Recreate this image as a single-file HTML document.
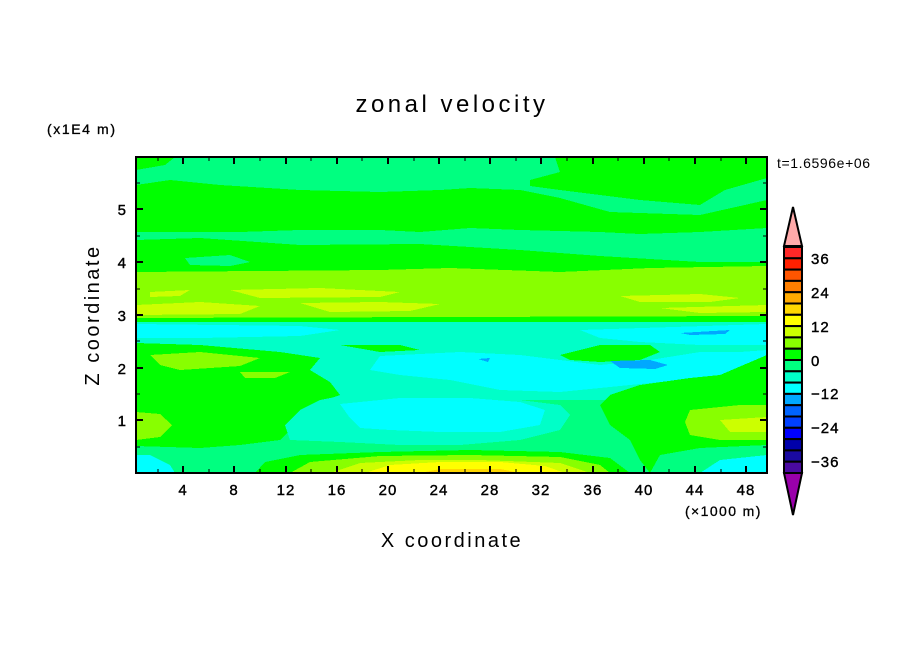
<!DOCTYPE html>
<html><head><style>
body{margin:0;background:#fff;}
svg text{font-family:"Liberation Sans",sans-serif;fill:#000;}
</style></head><body>
<svg width="904" height="654" viewBox="0 0 904 654" xmlns="http://www.w3.org/2000/svg">
<defs><clipPath id="c"><rect x="136" y="157" width="631" height="316"/></clipPath></defs>
<g clip-path="url(#c)" shape-rendering="crispEdges">
<rect x="136" y="157" width="631" height="316" fill="#00ff80"/>
<path d="M136 157 L175 157 L165 165 L136 170Z" fill="#00ff00"/>
<path d="M555 157 L767 157 L767 178 L725 190 L700 205 L640 200 L600 195 L560 190 L530 186 L530 180 L560 172Z" fill="#00ff00"/>
<path d="M136 185 L170 180 L220 185 L300 190 L380 192 L440 190 L470 188 L520 190 L560 198 L610 212 L700 215 L767 200 L767 228 L700 232 L640 234 L600 232 L520 230 L470 228 L420 232 L380 230 L300 230 L240 232 L136 232Z" fill="#00ff00"/>
<path d="M136 240 L200 238 L300 245 L420 244 L520 250 L600 256 L700 262 L767 262 L767 280 L136 280Z" fill="#00ff00"/>
<path d="M185 258 L230 255 L250 262 L230 266 L190 265Z" fill="#00ff80"/>
<path d="M136 272 L380 270 L450 268 L560 272 L650 268 L767 266 L767 322 L136 322Z" fill="#88ff00"/>
<path d="M150 292 L190 290 L180 296 L150 297Z M230 290 L320 288 L400 292 L380 297 L260 298Z M136 305 L200 302 L260 306 L240 314 L136 315Z M300 303 L380 302 L440 304 L410 311 L330 312Z M620 296 L700 294 L740 298 L710 302 L640 302Z M660 308 L767 305 L767 312 L700 313Z" fill="#ccff00"/>
<path d="M136 318 L767 316 L767 322 L136 322Z" fill="#00ff00"/>
<path d="M136 322 L767 322 L767 400 L136 400Z" fill="#00ffc8"/>
<path d="M136 324 L300 326 L340 330 L300 336 L200 338 L136 338Z M580 330 L767 324 L767 345 L700 345 L640 342 L600 338Z" fill="#00ffff"/>
<path d="M680 333 L730 330 L725 334 L690 335Z" fill="#00a8ff"/>
<path d="M136 343 L200 345 L280 352 L320 358 L310 370 L330 382 L340 395 L310 405 L300 420 L280 440 L240 445 L200 448 L136 446Z" fill="#00ff00"/>
<path d="M150 355 L200 352 L260 358 L240 366 L180 370 L160 365Z M240 372 L290 372 L275 378 L245 378Z" fill="#88ff00"/>
<path d="M136 412 L160 414 L172 425 L160 437 L136 440Z" fill="#88ff00"/>
<path d="M340 345 L400 345 L420 350 L380 352Z M560 355 L600 345 L650 345 L660 352 L640 360 L600 362 L570 360Z" fill="#00ff00"/>
<path d="M380 356 L460 352 L520 355 L560 360 L600 365 L650 360 L700 352 L740 352 L767 350 L767 372 L720 378 L660 382 L600 388 L560 392 L500 390 L450 380 L400 375 L370 370Z" fill="#00ffff"/>
<path d="M610 361 L650 360 L668 365 L655 369 L620 368Z M478 359 L490 358 L488 362Z" fill="#00a8ff"/>
<path d="M320 400 L360 392 L420 390 L470 395 L520 400 L560 405 L570 415 L560 430 L520 440 L460 445 L400 445 L340 442 L290 440 L285 425 L300 410Z" fill="#00ffc8"/>
<path d="M340 404 L400 398 L470 398 L520 402 L545 410 L540 425 L500 432 L440 432 L390 430 L360 428 L350 418Z" fill="#00ffff"/>
<path d="M767 355 L767 473 L650 473 L640 460 L630 440 L610 425 L600 405 L610 395 L640 385 L690 378 L720 375 Z" fill="#00ff00"/>
<path d="M690 410 L740 405 L767 405 L767 440 L720 440 L690 435 L685 422Z" fill="#88ff00"/>
<path d="M720 420 L767 417 L767 432 L730 432Z" fill="#ccff00"/>
<path d="M650 473 L660 455 L700 448 L767 445 L767 473Z" fill="#00ff80"/>
<path d="M700 473 L720 460 L767 455 L767 473Z" fill="#00ffff"/>
<path d="M136 450 L200 448 L250 450 L290 447 L360 446 L450 445 L560 446 L610 450 L620 473 L136 473Z" fill="#00ff80"/>
<path d="M136 455 L150 455 L170 465 L175 473 L136 473Z" fill="#00ffff"/>
<path d="M255 473 L265 462 L300 455 L380 452 L470 450 L560 452 L610 458 L630 473Z" fill="#00ff00"/>
<path d="M290 473 L310 462 L380 456 L470 455 L560 457 L600 465 L610 473Z" fill="#88ff00"/>
<path d="M330 473 L360 463 L420 460 L480 460 L560 463 L590 473Z" fill="#ccff00"/>
<path d="M365 473 L390 465 L440 462 L500 462 L545 466 L565 473Z" fill="#ffff00"/>
<path d="M420 473 L440 469 L500 469 L520 473Z" fill="#ffd700"/>
</g>
<rect x="136" y="157" width="631" height="316" fill="none" stroke="#000" stroke-width="2"/>
<g stroke="#000" stroke-width="2">
<path d="M183 473v-7M234 473v-7M286 473v-7M337 473v-7M388 473v-7M439 473v-7M490 473v-7M541 473v-7M593 473v-7M644 473v-7M695 473v-7M746 473v-7
M183 157v7M234 157v7M286 157v7M337 157v7M388 157v7M439 157v7M490 157v7M541 157v7M593 157v7M644 157v7M695 157v7M746 157v7
M136 420h7M136 368h7M136 315h7M136 262h7M136 209h7
M767 420h-7M767 368h-7M767 315h-7M767 262h-7M767 209h-7"/>
<path stroke-width="1" d="M158 473v-4M209 473v-4M260 473v-4M311 473v-4M362 473v-4M414 473v-4M465 473v-4M516 473v-4M567 473v-4M618 473v-4M669 473v-4M721 473v-4
M158 157v4M209 157v4M260 157v4M311 157v4M362 157v4M414 157v4M465 157v4M516 157v4M567 157v4M618 157v4M669 157v4M721 157v4
M136 447h4M136 394h4M136 341h4M136 289h4M136 236h4M136 183h4
M767 447h-4M767 394h-4M767 341h-4M767 289h-4M767 236h-4M767 183h-4"/>
</g>
<g font-size="15" text-anchor="middle" stroke="#000" stroke-width="0.4" letter-spacing="1">
<text x="183" y="495">4</text><text x="234" y="495">8</text><text x="286" y="495">12</text><text x="337" y="495">16</text><text x="388" y="495">20</text><text x="439" y="495">24</text><text x="490" y="495">28</text><text x="541" y="495">32</text><text x="593" y="495">36</text><text x="644" y="495">40</text><text x="695" y="495">44</text><text x="746" y="495">48</text>
</g>
<g font-size="15" text-anchor="end" stroke="#000" stroke-width="0.4">
<text x="126" y="426">1</text><text x="126" y="374">2</text><text x="126" y="321">3</text><text x="126" y="268">4</text><text x="126" y="215">5</text>
</g>
<text x="452" y="112" font-size="24" text-anchor="middle" letter-spacing="3.5">zonal velocity</text>
<text x="47" y="134" font-size="14" letter-spacing="1.6" stroke="#000" stroke-width="0.3">(x1E4 m)</text>
<text x="685" y="516" font-size="14" letter-spacing="1.4" stroke="#000" stroke-width="0.3">(×1000 m)</text>
<text x="777" y="168" font-size="14" letter-spacing="0.6">t=1.6596e+06</text>
<text x="452" y="547" font-size="20" text-anchor="middle" letter-spacing="2.5">X coordinate</text>
<text transform="translate(99,315) rotate(-90)" font-size="20" text-anchor="middle" letter-spacing="2.5">Z coordinate</text>
<g stroke="#000" stroke-width="2">
<path d="M793 207 L802 246 L784 246Z" fill="#ffaaaa"/>
<path d="M784 473 L802 473 L793 515Z" fill="#9900aa"/>
<rect x="784" y="247.0" width="18" height="11.3" fill="#ff2828"/>
<rect x="784" y="258.3" width="18" height="11.3" fill="#ff2000"/>
<rect x="784" y="269.6" width="18" height="11.3" fill="#ff5500"/>
<rect x="784" y="280.9" width="18" height="11.3" fill="#ff7f00"/>
<rect x="784" y="292.2" width="18" height="11.3" fill="#ffaa00"/>
<rect x="784" y="303.5" width="18" height="11.3" fill="#ffd700"/>
<rect x="784" y="314.8" width="18" height="11.3" fill="#ffff00"/>
<rect x="784" y="326.1" width="18" height="11.3" fill="#ccff00"/>
<rect x="784" y="337.4" width="18" height="11.3" fill="#88ff00"/>
<rect x="784" y="348.7" width="18" height="11.3" fill="#00ff00"/>
<rect x="784" y="360.0" width="18" height="11.3" fill="#00ff80"/>
<rect x="784" y="371.3" width="18" height="11.3" fill="#00ffc8"/>
<rect x="784" y="382.6" width="18" height="11.3" fill="#00ffff"/>
<rect x="784" y="393.9" width="18" height="11.3" fill="#00a8ff"/>
<rect x="784" y="405.2" width="18" height="11.3" fill="#0064ff"/>
<rect x="784" y="416.5" width="18" height="11.3" fill="#0040ff"/>
<rect x="784" y="427.8" width="18" height="11.3" fill="#0000ff"/>
<rect x="784" y="439.1" width="18" height="11.3" fill="#0000aa"/>
<rect x="784" y="450.4" width="18" height="11.3" fill="#1a0aa0"/>
<rect x="784" y="461.7" width="18" height="11.3" fill="#4a0aa0"/>
</g>
<g font-size="15" stroke="#000" stroke-width="0.4" letter-spacing="1">
<text x="811" y="264">36</text><text x="811" y="298">24</text><text x="811" y="332">12</text><text x="811" y="366">0</text><text x="811" y="399">−12</text><text x="811" y="433">−24</text><text x="811" y="467">−36</text>
</g>
</svg>
</body></html>
